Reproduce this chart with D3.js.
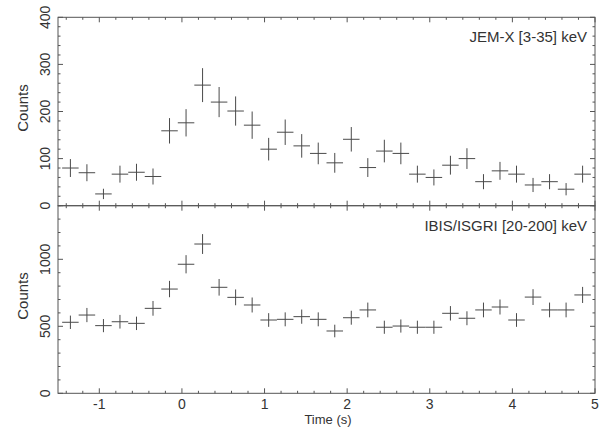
<!DOCTYPE html>
<html>
<head>
<meta charset="utf-8">
<script src="https://cdn.jsdelivr.net/npm/d3@7"></script>
<style>
  body { margin: 0; background: #fff; }
  text { font-family: "Liberation Sans", Arial, sans-serif; fill: #333; }
</style>
</head>
<body>
<script>
// bin centres (s), 0.2 s bins
const times = [-1.35, -1.15, -0.95, -0.75, -0.55, -0.35, -0.15, 0.05, 0.25, 0.45, 0.65, 0.85,
  1.05, 1.25, 1.45, 1.65, 1.85, 2.05, 2.25, 2.45, 2.65, 2.85, 3.05, 3.25, 3.45, 3.65, 3.85,
  4.05, 4.25, 4.45, 4.65, 4.85];
const binHalf = 0.1;

// JEM-X [3-35] keV
const jemCounts = [80, 70, 25, 67, 71, 62, 159, 176, 256, 220, 201, 171, 120, 156, 127, 111, 91,
  141, 81, 116, 111, 67, 60, 86, 100, 51, 74, 67, 44, 51, 35, 67];
const jemErr = [19, 18, 11, 18, 18, 17, 27, 29, 36, 32, 31, 29, 24, 27, 25, 23, 21, 26, 20, 24,
  23, 18, 17, 20, 22, 16, 19, 18, 15, 16, 13, 18];

// IBIS/ISGRI [20-200] keV
const isgriCounts = [530, 584, 505, 534, 522, 634, 778, 963, 1114, 791, 716, 659, 547, 552, 572,
  552, 465, 564, 622, 493, 502, 493, 493, 597, 560, 622, 644, 547, 718, 622, 622, 734];
const isgriErr = [50, 53, 49, 51, 50, 55, 61, 68, 74, 62, 59, 56, 51, 52, 53, 52, 47, 52, 55, 49,
  49, 49, 49, 54, 52, 55, 56, 51, 59, 55, 55, 60];

const xTicks = [-1, 0, 1, 2, 3, 4, 5];
const jemTicks = [0, 100, 200, 300, 400];
const isgriTicks = [0, 500, 1000];

const W = 611, H = 430;
const padL = 58, padR = 595, padT = 17.3, padMid = 205.7, padB = 393.3;

const svg = d3.select("body").append("svg")
  .attr("width", W).attr("height", H);

const x = d3.scaleLinear().domain([-1.5, 5]).range([padL, padR]);
const xMinor = d3.range(-1.4, 5.001, 0.2).map(v => +v.toFixed(1)).filter(v => !xTicks.includes(v));

function panel(y, counts, errs, majors, minorStep, title, titleY, labelY) {
  const g = svg.append("g");
  const [y0, y1] = y.domain();
  const yMinor = d3.range(y0, y1 + 0.001, minorStep).filter(v => !majors.includes(v));
  const yb = y.range()[0], yt = y.range()[1];

  // frame
  g.append("rect")
    .attr("x", padL).attr("y", yt)
    .attr("width", padR - padL).attr("height", yb - yt)
    .attr("fill", "none").attr("stroke", "#555").attr("stroke-width", 1);

  // inward ticks, all four sides
  const tk = g.append("g").attr("stroke", "#555").attr("stroke-width", 1);
  const xt = xTicks.map(v => ({ v, len: 5 })).concat(xMinor.map(v => ({ v, len: 2.5 })));
  xt.forEach(t => {
    tk.append("line").attr("x1", x(t.v)).attr("x2", x(t.v)).attr("y1", yb).attr("y2", yb - t.len);
    tk.append("line").attr("x1", x(t.v)).attr("x2", x(t.v)).attr("y1", yt).attr("y2", yt + t.len);
  });
  const yt2 = majors.map(v => ({ v, len: 5 })).concat(yMinor.map(v => ({ v, len: 2.5 })));
  yt2.forEach(t => {
    tk.append("line").attr("x1", padL).attr("x2", padL + t.len).attr("y1", y(t.v)).attr("y2", y(t.v));
    tk.append("line").attr("x1", padR).attr("x2", padR - t.len).attr("y1", y(t.v)).attr("y2", y(t.v));
  });

  // y tick labels (rotated)
  g.selectAll("text.ytl").data(majors).enter().append("text")
    .attr("class", "ytl")
    .attr("transform", d => `translate(50,${y(d)}) rotate(-90)`)
    .attr("text-anchor", "middle")
    .attr("font-size", 14)
    .text(d => d);

  g.append("text")
    .attr("transform", `translate(27.5,${labelY}) rotate(-90)`)
    .attr("text-anchor", "middle")
    .attr("font-size", 15)
    .text("Counts");

  g.append("text")
    .attr("x", 587).attr("y", titleY)
    .attr("text-anchor", "end")
    .attr("font-size", 15)
    .text(title);

  // data crosses
  const pts = g.append("g").attr("stroke", "#4a4a4a").attr("stroke-width", 1);
  times.forEach((t, i) => {
    pts.append("line")
      .attr("x1", x(t - binHalf)).attr("x2", x(t + binHalf))
      .attr("y1", y(counts[i])).attr("y2", y(counts[i]));
    pts.append("line")
      .attr("x1", x(t)).attr("x2", x(t))
      .attr("y1", y(counts[i] - errs[i])).attr("y2", y(counts[i] + errs[i]));
  });
}

const yJem = d3.scaleLinear().domain([0, 400]).range([padMid, padT]);
const yIsgri = d3.scaleLinear().domain([0, 1400]).range([padB, padMid]);

panel(yJem, jemCounts, jemErr, jemTicks, 20, "JEM-X [3-35] keV", 41.5, 108);
panel(yIsgri, isgriCounts, isgriErr, isgriTicks, 100, "IBIS/ISGRI [20-200] keV", 231, 296);

// x tick labels
svg.selectAll("text.xtl").data(xTicks).enter().append("text")
  .attr("class", "xtl")
  .attr("x", d => x(d)).attr("y", 409)
  .attr("text-anchor", "middle")
  .attr("font-size", 14)
  .text(d => d < 0 ? "-" + Math.abs(d) : d);

svg.append("text")
  .attr("x", 328).attr("y", 424)
  .attr("text-anchor", "middle")
  .attr("font-size", 13)
  .text("Time (s)");
</script>
</body>
</html>
